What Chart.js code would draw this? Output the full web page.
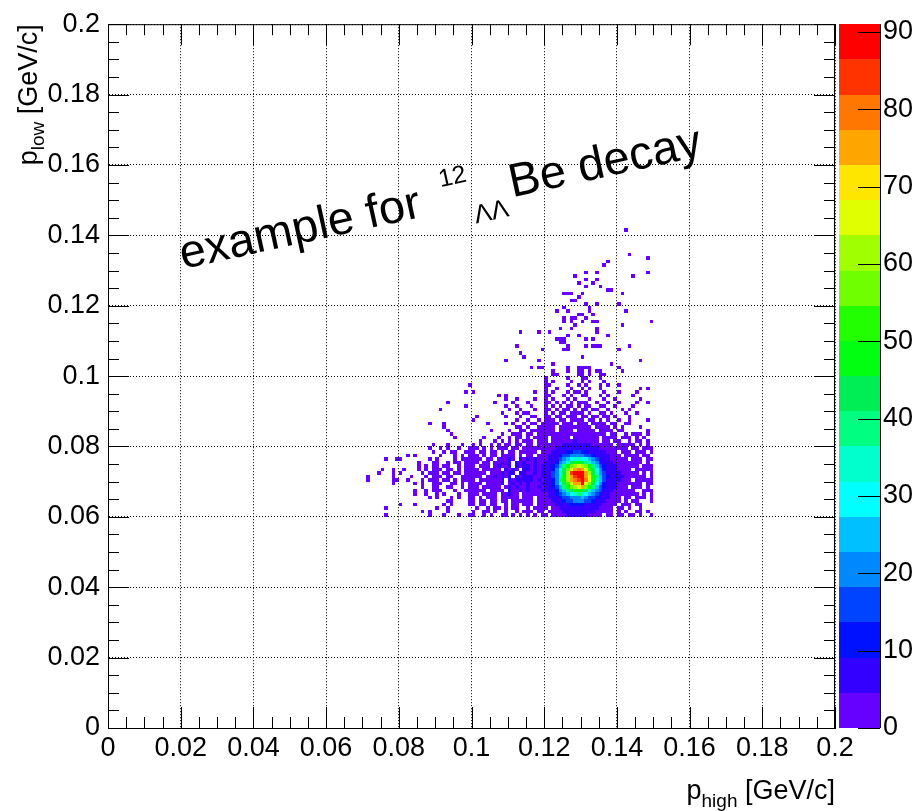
<!DOCTYPE html>
<html>
<head>
<meta charset="utf-8">
<script src="https://cdn.jsdelivr.net/npm/chart.js@4.4.1/dist/chart.umd.min.js"></script>
<style>
  body { margin: 0; background: #fff; }
</style>
</head>
<body>
<canvas id="hist2d" width="920" height="811"></canvas>
<script>
// axis ticks
var xTickValues = [0, 0.02, 0.04, 0.06, 0.08, 0.1, 0.12, 0.14, 0.16, 0.18, 0.2];
var xTickLabels = ["0", "0.02", "0.04", "0.06", "0.08", "0.1", "0.12", "0.14", "0.16", "0.18", "0.2"];
var yTickValues = [0, 0.02, 0.04, 0.06, 0.08, 0.1, 0.12, 0.14, 0.16, 0.18, 0.2];
var yTickLabels = ["0", "0.02", "0.04", "0.06", "0.08", "0.1", "0.12", "0.14", "0.16", "0.18", "0.2"];
var zTickValues = [0, 10, 20, 30, 40, 50, 60, 70, 80, 90];
var zMax = 91;

// colour palette, bottom (low) to top (high)
var paletteColors = ["#6600ff", "#3300ff", "#0011ff", "#0044ff", "#0088ff",
                     "#00c0ff", "#00ffff", "#00ffcc", "#00ff80", "#00ee55",
                     "#00ff11", "#22ff00", "#70ff00", "#a0ff00", "#e0ff00",
                     "#ffe600", "#ffa500", "#ff7700", "#ff3300", "#ff0000"];

// binning of the histogram
var binWidth = 0.001;
var xFirstBin = 0.070;   // first column of countRows
var yFirstBin = 0.060;   // last row of countRows

// one character per bin -> entries
var countCodes = ".123456789abcdefghijklmnopqrs";
var codeCounts = [0, 1, 2, 3, 4, 5, 6, 7, 8, 9, 11, 16, 20, 25, 30, 34, 39, 43, 48, 52,
                  57, 61, 66, 70, 75, 80, 84, 89, 91];

// rows from p_low = 0.141 (top) down to 0.060, columns p_high = 0.070 .. 0.149
var countRows = [
  ".......... .......... .......... .......... .......... .......... .......... ..1.......",
  ".......... .......... .......... .......... .......... .......... .......... ..........",
  ".......... .......... .......... .......... .......... .......... .......... ..........",
  ".......... .......... .......... .......... .......... .......... .......... ..........",
  ".......... .......... .......... .......... .......... .......... .......... ..........",
  ".......... .......... .......... .......... .......... .......... .......... ..........",
  ".......... .......... .......... .......... .......... .......... .......... ..........",
  ".......... .......... .......... .......... .......... .......... .......... ...1......",
  ".......... .......... .......... .......... .......... .......... .......... ........1.",
  ".......... .......... .......... .......... .......... .......... .......1.. ..........",
  ".......... .......... .......... .......... .......... .......... ......1... ..........",
  ".......... .......... .......... .......... .......... .......... .......... ..........",
  ".......... .......... .......... .......... .......... .......... .1..1..... ........1.",
  ".......... .......... .......... .......... .......... ........1. .......... ....1.....",
  ".......... .......... .......... .......... .......... .......... .1..1..... ..........",
  ".......... .......... .......... .......... .......... .........1 ...1...... ..........",
  ".......... .......... .......... .......... .......... .......... .1...1.... ..........",
  ".......... .......... .......... .......... .......... .......... .......11. ..........",
  ".......... .......... .......... .......... .......... .....111.. 1......... .1........",
  ".......... .......... .......... .......... .......... .........1 .......... ..........",
  ".......... .......... .......... .......... .......... .......11. .......... ..........",
  ".......... .......... .......... .......... .......... .......... .1..1..... 1.........",
  ".......... .......... .......... .......... .......... .....1.... ..1....... ..........",
  ".......... .......... .......... .......... .......... ...1..1... ..1....... ..1.......",
  ".......... .......... .......... .......... .......... .........1 1..1...... ..........",
  ".......... .......... .......... .......... .......... .....1.11. .1........ ..........",
  ".......... .......... .......... .......... .......... .....1.1.. 1..11..... .........1",
  ".......... .......... .......... .......... .......... ........1. .......... .1........",
  ".......... .......... .......... .......... .......... ....1..1.. ....1..... ..........",
  ".......... .......... .......... .......... ...1....1. .1........ ....1..... ..........",
  ".......... .......... .......... .......... .......... ......1..1 .......1.. ..........",
  ".......... .......... .......... .......... .......... ...111.... .1.1...... ..........",
  ".......... .......... .......... .......... .......... ....11.... .......... ..........",
  ".......... .......... .......... .......... ..1....... ......1... .1.111.... ...1......",
  ".......... .......... .......... .......... .........1 .....11... .......... 1.........",
  ".......... .......... .......... .......... ...1...... .......... .......... ..........",
  ".......... .......... .......... .......... ....1..... .......... 1......... ..........",
  ".......... .......... .......... .........1 ........1. .......... .......... ......1...",
  ".......... .......... .......... .......... .......... ..1....... ........1. ..........",
  ".......... .......... .......... .......... ......1.11 ......1..1 111....... 1.........",
  ".......... .......... .......... .......... .......... ..1...1..1 1.1.11.... .1........",
  ".......... .......... .......... .......... .......... ..11.....1 1.1..11... ..........",
  ".......... .......... .......... .......... .......... 1.....1... 11...1.... ..........",
  ".......... .......... .......... .......... .......... 1.1....1.. 1.1...1... ..........",
  ".......... .......... .........1 .......... .......... 11....1..1 .1...1.1.. 1.........",
  ".......... .......... .......... .......... .......... 1..1...1.. 1.1..1.... ......1.1.",
  ".......... .......... ........1. 1......... .......1.. 1.1...1.11 .1....1... 1....1....",
  ".......... .......... .......... .......1.1 .......... 11...1.1.. 11...1.1.. ....1.....",
  ".......... .......... .......... .........1 ..1....1.. 1.1...1.1. ..1...1..1 ......1...",
  ".......... .......... ...1...... ......1... .1...1.... 11.1.1.1.1 11..1..1.. 1....1..1.",
  ".......... .......... ........1. .........1 ..1...1... 1.1.1.11.1 .11..11..1 ....1.....",
  ".......... .......... .1........ .......... 1..1...1.. 11.1.11.1. 11.11..1.. .1.1......",
  ".......... .......... .......... ........1. ..1.11.... 1.1.11.111 1.1..11.1. ..1..1....",
  ".......... .......... .......... .1.......1 ...1..11.. 11.11.111. 11.11.11.1 ...1......",
  ".......... .......... .......... 1......... ..1..1..1. 111.11.111 1.11.1.1.. 1..1....1.",
  ".......... ........1. ..1....... ....1....1 .1..1.11.1 1111.111.1 11.1111.11 ..11......",
  ".......... .......... ..1....... .......... ..11.1..11 111.111111 111.1111.1 .1....1...",
  ".......... .......... ...1...... .....1.... 1..11.1111 121.1121.1 1211.1121. 11......1.",
  ".......... .......... ....1..... ........1. .111.11.11 2121122112 1212211.12 ..1.111.1.",
  ".......... .......... .....1.... ...1...1..1.11.1 .1112.22333.3333222.1111.1 11.1.1..",
  ".......... .......... .......... ..1...1.1.1.1.11 1.122.3334445444333.22.11. .1.11.1.",
  ".......... .........1 ...1...1.. 1.1..1.1.11.11.1 1.222334455666655443322.11 111.1.1.",
  ".......... ........1. .1.1..1..1 11.1.1.111.11.12 12223345567889876654432211 1.11.111",
  ".......... .........1 ..1.11..11 1.11.11.1.12.112 12.3345678aabbaa98765432.1 11.111.1",
  ".......... ..1.1..... .1...1.1.1 21.1.21.2111.1.2 2.234567abbccccbba8765432. 2111.11.",
  "......1..1 1.......1. 1....1.111 121.21.13152.516 25344579bcdeffeedcb9764332 1.211.11",
  ".......... .....1...1 1..1.11.11 21.13.21525.6252 3524568acdfhiihgfdca875432 11111.1.",
  ".......... .....1.1.1 1.11..1.11 2.131.15325.5356 352557abdgiklmlkigdba75542 2111.111",
  ".....1..1. .1...1.1.1 11.11.1.11 13.21312.5352.65 354657acehkmopomjheca86542 11.12111",
  "....1...1. 1.....1.11 1.11.11.11 2322.1325365.563 453658bcfhlqrsrolhfcb97554 1121.1.1",
  ".1......1. ...1...1.1 11.11..111 231.3252535.6456 534668bcfiloqrromigdba7565 111211.1",
  ".1......11 ..1...1.11 1.11.1.111 3.2243235.535565 526468acgilopqrpmifdb96553 21.11111",
  "........1. ....1.1..1 11..11.1.1 232.32425.353536 434557acehjmoormkheca86543 11111.11",
  ".......... ......1..1 1..11..1.1 12.24232.3525345 425357abdgiklmokigdba75532 1.111.1.",
  ".......... ....1..1.1 11...1..11 2213.1324.523525 3425568acdghiiihfdcb975432 111..111",
  ".......... ....1..1.. 1.1...1..1 12.2132.32532.42 3242457abcdefgfedcba864332 1111.1.1",
  ".......... ........1. 1...1.1..1 2.1.211.13221.32 2.234567abbcccdcbba865432. 11.111.1",
  ".......... .......... ...11....1 1.21.12.12.31221 1.2334578abbcccbba8754332. 2.11...1",
  ".......... 1...1..... ..1.1....1 1.11.11..1.11.11 1.223345678aaaa987654332.1 11.11...",
  "......1... .......... 1..1...... .1..1.11.1.11..1 .1223.34556788876554332.11 .1..1...",
  ".......... ......1.1. ...1...... 1..11.1..1..1.11 1.22.334455667665544322.1. 1..11.1.",
  "......1... ........1. ..1...1..1 1..1.1..11.1.1.1 .1.22.33445556554433.21.11 .11.1..1"
];

var cells = [];
countRows.forEach(function (row, r) {
  var s = row.replace(/ /g, '');
  var yLow = yFirstBin + (countRows.length - 1 - r) * binWidth;
  for (var c = 0; c < s.length; c++) {
    var n = codeCounts[countCodes.indexOf(s[c])];
    if (n > 0) {
      cells.push({ x: xFirstBin + (c + 0.5) * binWidth, y: yLow + 0.5 * binWidth, v: n });
    }
  }
});

var fontFamily = "'Liberation Sans', Arial, Helvetica, sans-serif";

function colorFor(v) {
  var k = Math.floor(v / (zMax / paletteColors.length));
  if (k > paletteColors.length - 1) k = paletteColors.length - 1;
  return paletteColors[k];
}

function drawLine(ctx, x1, y1, x2, y2) {
  ctx.beginPath();
  ctx.moveTo(x1, y1);
  ctx.lineTo(x2, y2);
  ctx.stroke();
}

// piecewise text: [text, size, baseline shift, optional start]
function drawPieces(ctx, pieces) {
  var x = 0;
  pieces.forEach(function (p) {
    ctx.font = p[1] + "px " + fontFamily;
    if (p.length > 3) x = p[3];
    ctx.fillText(p[0], x, p[2]);
    x += ctx.measureText(p[0]).width;
  });
}

function piecesWidth(ctx, pieces) {
  var w = 0;
  pieces.forEach(function (p) {
    ctx.font = p[1] + "px " + fontFamily;
    w += ctx.measureText(p[0]).width;
  });
  return w;
}

var colzPlugin = {
  id: 'colz',
  beforeDatasetsDraw: function (chart) {
    var ctx = chart.ctx, xs = chart.scales.x, ys = chart.scales.y, zs = chart.scales.z;
    var half = binWidth / 2;
    ctx.save();
    chart.data.datasets[0].data.forEach(function (p) {
      var x0 = Math.round(xs.getPixelForValue(p.x - half));
      var x1 = Math.round(xs.getPixelForValue(p.x + half));
      var y0 = Math.round(ys.getPixelForValue(p.y + half));
      var y1 = Math.round(ys.getPixelForValue(p.y - half));
      ctx.fillStyle = colorFor(p.v);
      ctx.fillRect(x0, y0, x1 - x0, y1 - y0);
    });
    // palette
    var band = zMax / paletteColors.length;
    var bl = zs.left + 4, br = zs.left + 45;
    for (var k = 0; k < paletteColors.length; k++) {
      var top = Math.round(zs.getPixelForValue((k + 1) * band));
      var bot = Math.round(zs.getPixelForValue(k * band));
      ctx.fillStyle = paletteColors[k];
      ctx.fillRect(bl, top, br - bl, bot - top);
    }
    ctx.restore();
  },
  afterDraw: function (chart) {
    var ctx = chart.ctx, a = chart.chartArea, xs = chart.scales.x, ys = chart.scales.y, zs = chart.scales.z;
    ctx.save();
    ctx.strokeStyle = '#000';
    ctx.lineWidth = 1;
    ctx.strokeRect(a.left + 0.5, a.top + 0.5, a.right - a.left - 1, a.bottom - a.top);

    // ticks inside the frame, on all four sides
    var k, px, len;
    for (k = 0; k <= 40; k++) {
      len = (k % 4 === 0) ? 21 : 11;
      px = Math.round(xs.getPixelForValue(k * 0.005)) + 0.5;
      drawLine(ctx, px, a.bottom, px, a.bottom - len);
      drawLine(ctx, px, a.top, px, a.top + len);
      px = Math.round(ys.getPixelForValue(k * 0.005)) + 0.5;
      drawLine(ctx, a.left, px, a.left + len, px);
      drawLine(ctx, a.right, px, a.right - len, px);
    }

    // palette axis
    var br = zs.left + 45;
    drawLine(ctx, br + 0.5, zs.getPixelForValue(zMax), br + 0.5, zs.getPixelForValue(0));
    zTickValues.forEach(function (v) {
      var py = Math.round(zs.getPixelForValue(v)) + 0.5;
      drawLine(ctx, br - 22, py, br, py);
    });

    ctx.fillStyle = '#000';
    ctx.textBaseline = 'alphabetic';
    ctx.textAlign = 'left';

    // x title
    var xt = [["p", 27, 0], ["high", 19, 8], [" [GeV/c]", 27, 0]];
    ctx.save();
    ctx.translate(a.right - piecesWidth(ctx, xt), 799);
    drawPieces(ctx, xt);
    ctx.restore();

    // y title
    var yt = [["p", 27, 0], ["low", 19, 7], [" [GeV/c]", 27, 0]];
    ctx.save();
    ctx.translate(37, a.top + piecesWidth(ctx, yt));
    ctx.rotate(-Math.PI / 2);
    drawPieces(ctx, yt);
    ctx.restore();

    // label
    ctx.save();
    ctx.translate(183, 269);
    ctx.rotate(-12.3 * Math.PI / 180);
    drawPieces(ctx, [["example for", 47, 0, 0], ["12", 25, -25, 269], ["\u039b\u039b", 26, 18, 296], ["Be decay", 47, 0, 337]]);
    ctx.restore();

    ctx.restore();
  }
};

var tickFont = { family: fontFamily, size: 27 };

new Chart(document.getElementById('hist2d'), {
  type: 'scatter',
  data: {
    datasets: [{
      data: cells,
      pointRadius: 0,
      showLine: false
    }]
  },
  options: {
    responsive: false,
    animation: false,
    events: [],
    layout: { padding: { top: 20, left: 0, right: 0, bottom: 0 } },
    plugins: {
      legend: { display: false },
      tooltip: { enabled: false }
    },
    scales: {
      x: {
        type: 'linear',
        position: 'bottom',
        min: 0,
        max: 0.2,
        afterBuildTicks: function (s) { s.ticks = xTickValues.map(function (v) { return { value: v }; }); },
        afterFit: function (s) { s.height = 83; },
        ticks: {
          color: '#000',
          font: tickFont,
          padding: 4,
          maxRotation: 0,
          autoSkip: false,
          callback: function (v, i) { return xTickLabels[i]; }
        },
        grid: { color: '#000', lineWidth: 1, drawTicks: false, z: 1 },
        border: { display: true, color: '#000', width: 1, dash: [1, 2], z: 1 }
      },
      y: {
        type: 'linear',
        position: 'left',
        min: 0,
        max: 0.2,
        afterBuildTicks: function (s) { s.ticks = yTickValues.map(function (v) { return { value: v }; }); },
        afterFit: function (s) { s.width = 108; },
        ticks: {
          color: '#000',
          font: tickFont,
          padding: 8,
          autoSkip: false,
          callback: function (v, i) { return yTickLabels[i]; }
        },
        grid: { color: '#000', lineWidth: 1, drawTicks: false, z: 1 },
        border: { display: true, color: '#000', width: 1, dash: [1, 2], z: 1 }
      },
      z: {
        type: 'linear',
        position: 'right',
        min: 0,
        max: zMax,
        afterBuildTicks: function (s) { s.ticks = zTickValues.map(function (v) { return { value: v }; }); },
        afterFit: function (s) { s.width = 85; },
        ticks: {
          color: '#000',
          font: tickFont,
          padding: 0,
          autoSkip: false
        },
        grid: { display: false, drawTicks: true, tickLength: 48 },
        border: { display: false }
      }
    }
  },
  plugins: [colzPlugin]
});
</script>
</body>
</html>
